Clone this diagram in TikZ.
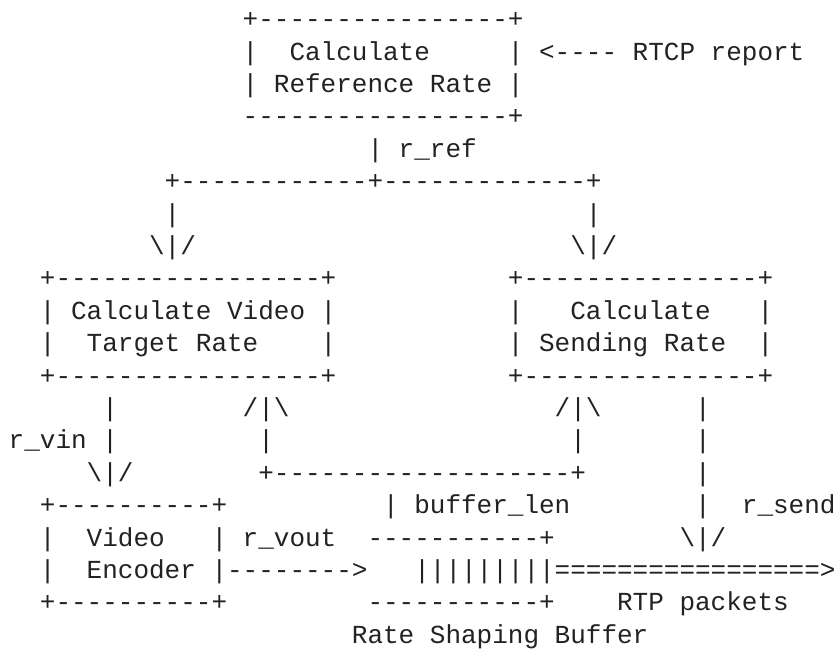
\documentclass[tikz,border=0pt]{standalone}
\usepackage{fontspec}
\setmonofont{Liberation Mono}
\definecolor{ink}{HTML}{222222}
\tikzset{asc/.style={anchor=base west, inner sep=0pt, outer sep=0pt, text=ink,
  font=\ttfamily\fontsize{26}{30}\selectfont}}
\newcommand\seg[4]{\node[asc] (#1) at ({(8.7+#3*15.6)*1pt},{-(27.6+#2*32.4)*1pt}) {#4};}
\begin{document}
\begin{tikzpicture}
\fill[white] (0,0) rectangle (838pt,-648pt);
\useasboundingbox (0,0) rectangle (838pt,-648pt);
\seg{a0}{0}{15}{+----------------+}
\seg{a1}{1}{15}{|}
\seg{a2}{1}{18}{Calculate}
\seg{a3}{1}{32}{| <---- RTCP report}
\seg{a4}{2}{15}{| Reference Rate |}
\seg{a5}{3}{15}{-----------------+}
\seg{a6}{4}{23}{| r\_ref}
\seg{a7}{5}{10}{+------------+-------------+}
\seg{a8}{6}{10}{|}
\seg{a9}{6}{37}{|}
\seg{b0}{7}{9}{\textbackslash|/}
\seg{b1}{7}{36}{\textbackslash|/}
\seg{b2}{8}{2}{+-----------------+}
\seg{b3}{8}{32}{+---------------+}
\seg{b4}{9}{2}{| Calculate Video |}
\seg{b5}{9}{32}{|}
\seg{b6}{9}{36}{Calculate}
\seg{b7}{9}{48}{|}
\seg{b8}{10}{2}{|}
\seg{b9}{10}{5}{Target Rate}
\seg{c0}{10}{20}{|}
\seg{c1}{10}{32}{| Sending Rate}
\seg{c2}{10}{48}{|}
\seg{c3}{11}{2}{+-----------------+}
\seg{c4}{11}{32}{+---------------+}
\seg{c5}{12}{6}{|}
\seg{c6}{12}{15}{/|\textbackslash}
\seg{c7}{12}{35}{/|\textbackslash}
\seg{c8}{12}{44}{|}
\seg{c9}{13}{0}{r\_vin |}
\seg{d0}{13}{16}{|}
\seg{d1}{13}{36}{|}
\seg{d2}{13}{44}{|}
\seg{d3}{14}{5}{\textbackslash|/}
\seg{d4}{14}{16}{+-------------------+}
\seg{d5}{14}{44}{|}
\seg{d6}{15}{2}{+----------+}
\seg{d7}{15}{24}{| buffer\_len}
\seg{d8}{15}{44}{|}
\seg{d9}{15}{47}{r\_send}
\seg{e0}{16}{2}{|}
\seg{e1}{16}{5}{Video}
\seg{e2}{16}{13}{| r\_vout}
\seg{e3}{16}{23}{-----------+}
\seg{e4}{16}{43}{\textbackslash|/}
\seg{e5}{17}{2}{|}
\seg{e6}{17}{5}{Encoder |-------->}
\seg{e7}{17}{26}{|||||||||=================>}
\seg{e8}{18}{2}{+----------+}
\seg{e9}{18}{23}{-----------+}
\seg{f0}{18}{39}{RTP packets}
\seg{f1}{19}{22}{Rate Shaping Buffer}
\end{tikzpicture}
\end{document}
